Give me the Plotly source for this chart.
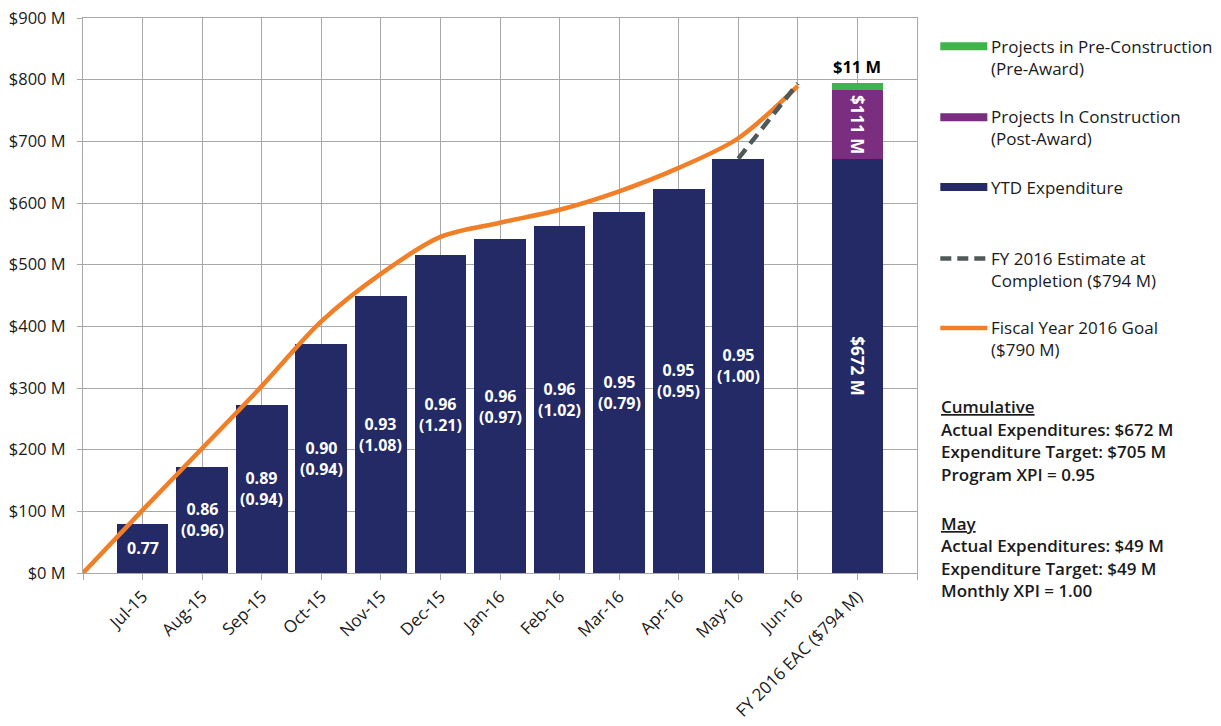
import plotly.graph_objects as go

# ---- data ----
categories = ["Jul-15", "Aug-15", "Sep-15", "Oct-15", "Nov-15", "Dec-15",
              "Jan-16", "Feb-16", "Mar-16", "Apr-16", "May-16", "Jun-16",
              "FY 2016 EAC ($794 M)"]
ytd_expenditure = [80, 172, 273, 371, 450, 515, 541, 563, 586, 623, 672, None, 672]
post_award = [None] * 12 + [111]
pre_award = [None] * 12 + [11]
goal_values = [0, 102, 202, 303, 408, 485, 545, 568, 589, 619, 657, 705, 790]  # starts at origin
eac_values = [672, 794]          # May-16 -> Jun-16
xpi_cum = ["0.77", "0.86", "0.89", "0.90", "0.93", "0.96", "0.96", "0.96", "0.95", "0.95", "0.95"]
xpi_month = ["", "(0.96)", "(0.94)", "(0.94)", "(1.08)", "(1.21)", "(0.97)", "(1.02)", "(0.79)", "(0.95)", "(1.00)"]
y_ticks = [0, 100, 200, 300, 400, 500, 600, 700, 800, 900]
y_tick_text = ["$%d M" % v for v in y_ticks]

cumulative_lines = ["Actual Expenditures: $672 M", "Expenditure Target: $705 M", "Program XPI = 0.95"]
may_lines = ["Actual Expenditures: $49 M", "Expenditure Target: $49 M", "Monthly XPI = 1.00"]

NAVY = "#232A65"
PURPLE = "#7B2D80"
GREEN = "#3DB54A"
ORANGE = "#F07F28"
DASH = "#4F5959"
GRID = "#A8A8A8"
TXT = "#1a1a1a"
FONT = "Open Sans"

xpos = list(range(1, len(categories) + 1))

fig = go.Figure()
for vals, col, nm in [(ytd_expenditure, NAVY, "YTD Expenditure"),
                      (post_award, PURPLE, "Projects In Construction (Post-Award)"),
                      (pre_award, GREEN, "Projects in Pre-Construction (Pre-Award)")]:
    fig.add_trace(go.Bar(x=xpos, y=vals, marker=dict(color=col, line=dict(width=0)), width=0.867,
                         name=nm, showlegend=False))
fig.add_trace(go.Scatter(x=list(range(0, len(goal_values))), y=goal_values, mode="lines",
                         line=dict(color=ORANGE, width=4.5, shape="spline", smoothing=0.9),
                         showlegend=False, name="Fiscal Year 2016 Goal"))
fig.add_trace(go.Scatter(x=[11, 12], y=eac_values, mode="lines",
                         line=dict(color=DASH, width=4.5, dash="12px,7px"),
                         showlegend=False, name="FY 2016 EAC"))

annotations = []
BF = dict(color="white", size=16, family=FONT, weight="bold")
# XPI labels inside bars
for i, (a, b) in enumerate(zip(xpi_cum, xpi_month)):
    v = ytd_expenditure[i]
    txt = a + ("<br>" + b if b else "")
    annotations.append(dict(x=xpos[i], y=v / 2, text=txt, showarrow=False, font=BF))
# EAC bar labels
BF2 = dict(color="white", size=17, family=FONT, weight="bold")
annotations.append(dict(x=13, y=ytd_expenditure[12] / 2, text="$%d M" % ytd_expenditure[12],
                        textangle=90, showarrow=False, font=BF2))
annotations.append(dict(x=13, y=ytd_expenditure[12] + post_award[12] / 2, text="$%d M" % post_award[12],
                        textangle=90, showarrow=False, font=BF2))
annotations.append(dict(x=13, y=ytd_expenditure[12] + post_award[12] + pre_award[12],
                        text="$%d M" % pre_award[12], showarrow=False, yanchor="bottom", yshift=3,
                        font=dict(color="black", size=16.5, family=FONT, weight="bold")))

# pixel -> paper helpers
L, R, T, B = 83, 916.7, 17.7, 573.3
def px(x):
    return (x - L) / (R - L)
def py(y):
    return (B - y) / (B - T)

shapes = []
legend_items = [
    (GREEN, "solid", 46, ["Projects in Pre-Construction", "(Pre-Award)"], 8),
    (PURPLE, "solid", 117, ["Projects In Construction", "(Post-Award)"], 8),
    (NAVY, "solid", 187, ["YTD Expenditure"], 8),
    (DASH, "dash", 258.5, ["FY 2016 Estimate at", "Completion ($794 M)"], 4.5),
    (ORANGE, "solid", 328, ["Fiscal Year 2016 Goal", "($790 M)"], 4.5),
]
for color, dash, yc, lines, w in legend_items:
    shapes.append(dict(type="line", xref="paper", yref="paper", x0=px(940), x1=px(987),
                       y0=py(yc), y1=py(yc),
                       line=dict(color=color, width=w, dash=("11px,6px" if dash == "dash" else "solid"))))
    ymid = yc + 21.5 * (len(lines) - 1) / 2
    annotations.append(dict(xref="paper", yref="paper", x=px(989), y=py(ymid), text="<br>".join(lines),
                            showarrow=False, xanchor="left", yanchor="middle", align="left",
                            font=dict(color=TXT, size=17, family=FONT)))

def block(title, lines, y0):
    annotations.append(dict(xref="paper", yref="paper", x=px(939), y=py(y0), text="<u>%s</u>" % title,
                            showarrow=False, xanchor="left", yanchor="middle",
                            font=dict(color=TXT, size=17, family=FONT, weight=600)))
    for k, t in enumerate(lines):
        annotations.append(dict(xref="paper", yref="paper", x=px(939), y=py(y0 + 22.6 * (k + 1)), text=t,
                                showarrow=False, xanchor="left", yanchor="middle",
                                font=dict(color=TXT, size=17, family=FONT, weight=600)))

block("Cumulative", cumulative_lines, 406.7)
block("May", may_lines, 523.3)

fig.update_layout(
    width=1221, height=726,
    margin=dict(l=L, r=1221 - R, t=T, b=726 - B, autoexpand=False),
    paper_bgcolor="white", plot_bgcolor="white",
    barmode="stack",
    showlegend=False,
    font=dict(family=FONT, size=16, color=TXT),
    annotations=annotations,
    shapes=shapes,
    xaxis=dict(range=[0, 14], tickmode="array", tickvals=list(range(0, 15)),
               ticktext=[""] + categories + [""], tickangle=-45, automargin=False,
               showgrid=True, gridcolor=GRID, gridwidth=1,
               showline=True, linecolor=GRID, linewidth=1, mirror=True,
               ticks="outside", ticklen=6, tickcolor=GRID,
               tickfont=dict(size=17, family=FONT, color=TXT), zeroline=False),
    yaxis=dict(range=[0, 900], tickmode="array", tickvals=y_ticks, ticktext=y_tick_text,
               showgrid=True, gridcolor=GRID, gridwidth=1, automargin=False,
               showline=True, linecolor=GRID, linewidth=1, mirror=True,
               ticks="outside", ticklen=5, tickcolor=GRID, ticklabelstandoff=8,
               tickfont=dict(size=16.5, family=FONT, color=TXT), zeroline=False),
)

fig.write_html("out.html")
